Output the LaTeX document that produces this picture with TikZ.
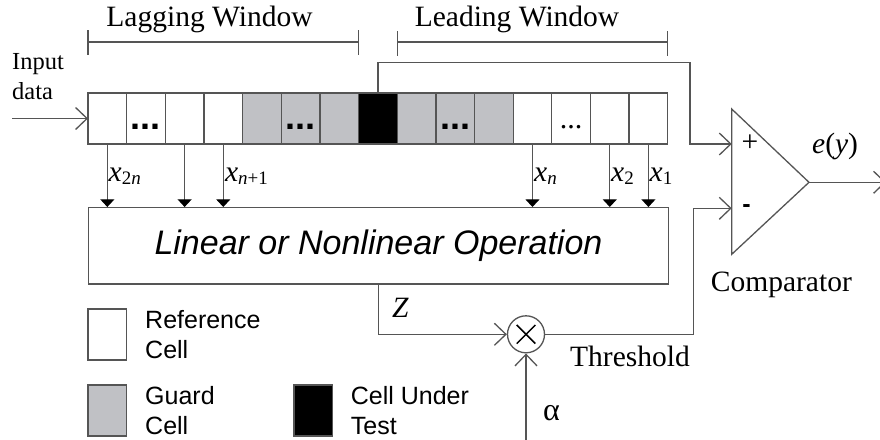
\documentclass[tikz,border=0pt]{standalone}
\usepackage{fontspec}
\setmainfont{Liberation Serif}
\setsansfont{Liberation Sans}
\usetikzlibrary{arrows.meta}
\definecolor{wirec}{RGB}{85,85,85}
\definecolor{guardc}{RGB}{192,193,197}
\newcommand\serifsz{\fontsize{29.5}{32}\selectfont}
\newcommand\subsz{\fontsize{19}{19}\selectfont}
\newcommand\xlab[1]{\textit{x}\raisebox{-3.5pt}{\subsz #1}}
\begin{document}
\begin{tikzpicture}[x=1pt,y=-1pt,
  wire/.style={draw=wirec,line width=1.3pt},
  barb/.style={-{Straight Barb[length=11.5pt,width=22pt]}},
  feed/.style={-{Triangle[length=7.7pt,width=14pt,color=black]}},
  cellbox/.style={draw=wirec,line width=1.3pt,minimum width=38.65pt,minimum height=51pt,inner sep=0pt,outer sep=0pt,anchor=north west},
  lbl/.style={inner sep=0pt,font=\serifsz},
  legtext/.style={anchor=north west,inner sep=0pt,align=left,font=\sffamily\fontsize{25}{30}\selectfont}]

% page frame
\useasboundingbox (0,0) rectangle (880,439);
\fill[white] (0,0) rectangle (880,439);

% sliding window of cells
\foreach \i/\c in {1/white,2/white,3/white,4/white,5/guardc,6/guardc,7/guardc,8/black,
                   9/guardc,10/guardc,11/guardc,12/white,13/white,14/white,15/white}
  \node[cellbox,fill=\c] (c\i) at ({88+(\i-1)*38.65},93) {};
\foreach \i in {2,6,10}
  \node[anchor=base,inner sep=0pt,font=\fontsize{36}{36}\selectfont\sffamily\bfseries]
    at ([yshift=-11pt]c\i.center) {...};
\node[anchor=base,inner sep=0pt,font=\fontsize{30}{30}\selectfont] at ([yshift=-9.5pt]c13.center) {...};

% window brackets
\draw[wire] (88,30) -- (88,55) (358.7,30) -- (358.7,55) (88,42) -- (358.7,42);
\draw[wire] (397.7,31) -- (397.7,56) (667.7,31) -- (667.7,56) (397.7,42) -- (667.7,42);
\node[lbl,anchor=base] (lagT) at (209.5,26) {Lagging Window};
\node[lbl,anchor=base] (leadT) at (517,26) {Leading Window};

% input
\node[anchor=north west,inner sep=0pt,align=left,font=\fontsize{24.5}{30}\selectfont] (inp) at (12,53) {Input\\data};
\coordinate (src) at (12,118.5);
\draw[wire,barb] (src) -- (c1.west);

% processing block
\node[draw=wirec,line width=1.3pt,anchor=north west,minimum width=579.7pt,minimum height=76.3pt,
      inner sep=0pt,font=\sffamily\itshape\fontsize{34}{36}\selectfont] (op) at (88,207)
      {Linear or Nonlinear Operation};
\foreach \i in {1,3,4,12,14,15}
  \draw[wire,feed] (c\i.south) -- (c\i.south |- op.north);
\node[lbl,anchor=base west] (x2n) at (108.5,181) {\xlab{2\textit{n}}};
\node[lbl,anchor=base west] (xn1) at (224.8,181) {\xlab{\textit{n}+1}};
\node[lbl,anchor=base west] (xn) at (534,181) {\xlab{\textit{n}}};
\node[lbl,anchor=base west] (x2) at (611,181) {\xlab{2}};
\node[lbl,anchor=base west] (x1) at (649.5,181) {\xlab{1}};

% comparator
\coordinate (cmpTop) at (731.7,109);
\coordinate (cmpBot) at (731.7,254.3);
\coordinate (cmpOut) at (809,182.3);
\draw[wire,line join=miter] (cmpTop) -- (cmpOut) -- (cmpBot) -- cycle;
\coordinate (plusIn) at (731.7,144);
\coordinate (minusIn) at (731.7,208.3);
\coordinate (topBend) at (690,62.7);
\draw[wire,barb] (c8.north) |- (topBend) |- (plusIn);
\node[inner sep=0pt,font=\serifsz] (plusS) at (750,143) {+};
\node[inner sep=0pt,font=\sffamily\bfseries\fontsize{25}{25}\selectfont] (minusS) at (746.5,208.5) {-};
\coordinate (eyEnd) at (886,182.3);
\draw[wire,barb] (cmpOut) -- (eyEnd);
\node[lbl,anchor=base west] (eyT) at (812,153) {\textit{e}(\textit{y})};
\node[lbl,anchor=base west] (cmpT) at (710.7,291.7) {Comparator};

% threshold multiplier
\node[circle,draw=wirec,line width=1.3pt,minimum size=37pt,inner sep=0pt] (mul) at (526,334.3) {};
\draw[line width=1.5pt] ([shift={(-9.3,-9.3)}]mul.center) -- ([shift={(9.3,9.3)}]mul.center)
                        ([shift={(-9.3,9.3)}]mul.center) -- ([shift={(9.3,-9.3)}]mul.center);
\draw[wire,barb] (op.south) |- (mul.west);
\node[lbl,anchor=base west] (zT) at (392,317) {\textit{Z}};
\coordinate (alphaSrc) at (526,441);
\draw[wire,barb] (alphaSrc) -- (mul.south);
\node[lbl,anchor=base west,font=\fontsize{32}{32}\selectfont] (alphaT) at (543,420) {α};
\coordinate (thrBend) at (693.3,334.3);
\draw[wire,barb] (mul.east) -- (thrBend) |- (minusIn);
\node[lbl,anchor=base west] (thrT) at (570,366.7) {Threshold};

% legend
\node[cellbox,fill=white] (legRef) at (88,309) {};
\node[cellbox,fill=guardc] (legGuard) at (88,385) {};
\node[cellbox,fill=black] (legCut) at (294,385) {};
\node[legtext] (legRefT) at (145,310) {Reference\\Cell};
\node[legtext] (legGuardT) at (145,386) {Guard\\Cell};
\node[legtext] (legCutT) at (350.7,386) {Cell Under\\Test};
\end{tikzpicture}
\end{document}
